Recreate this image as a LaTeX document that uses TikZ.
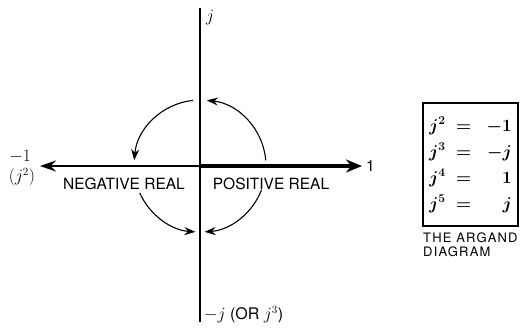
\documentclass[tikz,border=0pt]{standalone}
\usepackage{fontspec}
\setsansfont{TeX Gyre Heros}
\usetikzlibrary{arrows.meta}
\begin{document}
\begin{tikzpicture}[x=1pt,y=-1pt,
  lab/.style={font=\sffamily\fontsize{15.5}{17}\selectfont, inner sep=0pt},
  axis/.style={line width=1.8pt},
  turn/.style={line width=1.1pt,-{Stealth[length=11pt,width=8pt]}},
  eqn/.style={font=\fontsize{18}{20}\selectfont\boldmath, inner sep=0pt, anchor=base west}]
\useasboundingbox (0,0) rectangle (526,327);
% axes
\coordinate (O) at (200,166);
\coordinate (top) at (200,8);
\coordinate (bot) at (200,322);
\coordinate (left) at (40,166);
\coordinate (right) at (362,166);
\draw[axis] (top) -- (bot);
\draw[axis,-{Stealth[length=16pt,width=11pt]}] (O) -- (left);
\draw[line width=4.5pt,-{Stealth[length=16pt,width=13pt]}] (O) -- (right);
% labels
\node[inner sep=0pt,font=\fontsize{17}{18}\selectfont] (jtop) at (210,18) {$j$};
\node[lab,anchor=west] (one) at (366,166) {1};
\node[inner sep=0pt,font=\fontsize{16}{18}\selectfont] (m1) at (20,157) {$-1$};
\node[inner sep=0pt,font=\fontsize{16}{18}\selectfont] (j2) at (22,177) {$(j^2)$};
\node[lab] (neg) at (124,184) {NEGATIVE REAL};
\node[lab] (pos) at (271,184) {POSITIVE REAL};
\node[lab,anchor=west,font=\sffamily\fontsize{16}{18}\selectfont] (mj) at (204,315) {$-j$ (OR $j^3$)};
% rotation arrows
\draw[turn] ([shift={(-5:66)}]O) arc[start angle=-5,end angle=-84,radius=66];
\draw[turn] ([shift={(-96:66)}]O) arc[start angle=-96,end angle=-175,radius=66];
\draw[turn] ([shift={(-204:66)}]O) arc[start angle=-204,end angle=-266,radius=66];
\draw[turn] ([shift={(21:66)}]O) arc[start angle=21,end angle=86,radius=66];
% box
\node[draw,line width=1.3pt,minimum width=95pt,minimum height=123pt,inner sep=0pt] (box) at (470.5,164.5) {};
\node[eqn] (e2) at (429,131) {$j^2$};
\node[eqn] (e3) at (429,157) {$j^3$};
\node[eqn] (e4) at (429,183) {$j^4$};
\node[eqn] (e5) at (429,209) {$j^5$};
\node[eqn] (q2) at (456,131) {$=$};
\node[eqn] (q3) at (456,157) {$=$};
\node[eqn] (q4) at (456,183) {$=$};
\node[eqn] (q5) at (456,209) {$=$};
\node[eqn,anchor=base east] (v2) at (512,131) {$-1$};
\node[eqn,anchor=base east] (v3) at (512,157) {$-j$};
\node[eqn,anchor=base east] (v4) at (512,183) {$1$};
\node[eqn,anchor=base east] (v5) at (512,209) {$j$};
\node[lab,anchor=north west,align=left,font=\sffamily\fontsize{13}{13.5}\selectfont\addfontfeature{LetterSpace=9}] (cap) at (423,233) {THE ARGAND\\DIAGRAM};
\end{tikzpicture}
\end{document}
